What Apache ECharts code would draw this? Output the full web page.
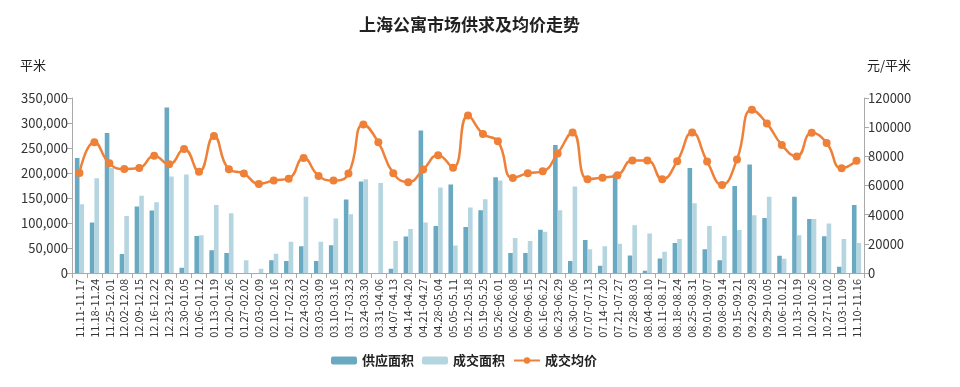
<!DOCTYPE html>
<html><head><meta charset="utf-8">
<script src="https://cdn.jsdelivr.net/npm/echarts@6/dist/echarts.min.js"></script>
<style>html,body{margin:0;padding:0;background:#fff}#c{width:960px;height:387px}</style>
</head><body><div id="c"></div>
<script>
const categories = ["11.11-11.17","11.18-11.24","11.25-12.01","12.02-12.08","12.09-12.15","12.16-12.22","12.23-12.29","12.30-01.05","01.06-01.12","01.13-01.19","01.20-01.26","01.27-02.02","02.03-02.09","02.10-02.16","02.17-02.23","02.24-03.02","03.03-03.09","03.10-03.16","03.17-03.23","03.24-03.30","03.31-04.06","04.07-04.13","04.14-04.20","04.21-04.27","04.28-05.04","05.05-05.11","05.12-05.18","05.19-05.25","05.26-06.01","06.02-06.08","06.09-06.15","06.16-06.22","06.23-06.29","06.30-07.06","07.07-07.13","07.14-07.20","07.21-07.27","07.28-08.03","08.04-08.10","08.11-08.17","08.18-08.24","08.25-08.31","09.01-09.07","09.08-09.14","09.15-09.21","09.22-09.28","09.29-10.05","10.06-10.12","10.13-10.19","10.20-10.26","10.27-11.02","11.03-11.09","11.10-11.16"];
const supplyArea = [230000,101000,280000,38000,133000,125000,331000,10500,74000,45500,40000,0,0,25500,24000,53500,24000,55500,147000,183000,0,8500,73000,285000,94000,177000,92000,125500,191500,40000,40000,86500,256000,24000,66000,14500,198000,35000,4600,29000,60000,210000,47500,25500,174000,217000,110000,34500,152500,108000,73500,12500,136000];
const dealArea = [137500,189500,210000,114000,154500,141500,193000,197000,75500,136000,119500,25500,8500,38500,62500,152500,62500,109000,117500,187500,180000,64000,88000,101000,171000,55000,131000,147500,185000,70000,64000,82500,125500,173000,47500,53500,58500,95500,79000,42500,68000,139500,94000,74000,86000,115500,152500,28500,75500,108000,99000,68000,60000];
const avgPrice = [68600,89600,75200,71300,72000,80400,74500,85100,69500,94000,71100,68200,61100,63400,64700,78800,66600,63400,68200,101900,89600,68400,62300,70900,80800,72200,108000,95300,90300,65200,68400,69700,82000,96400,64300,65400,67000,77200,77200,64300,76700,96400,76500,60400,77900,112000,102600,87800,79900,96200,89200,71800,77000];
const legendNames = ["供应面积","成交面积","成交均价"];

const chart = echarts.init(document.getElementById('c'));
const axisColor = '#aaaaaa';
const labelColor = '#333333';
const font = '"Noto Sans CJK SC", "Noto Sans", sans-serif';
chart.setOption({
  animation: false,
  textStyle: {fontFamily: font},
  title: {
    text: '上海公寓市场供求及均价走势',
    left: 354, top: 11,
    textStyle: {fontSize: 17, fontWeight: 'bold', color: '#222', fontFamily: font}
  },
  legend: {
    data: legendNames,
    bottom: 15, left: 326,
    itemWidth: 26, itemHeight: 8, itemGap: 8,
    textStyle: {fontSize: 13, fontWeight: 'bold', color: '#222'}
  },
  grid: {left: 72, right: 96, top: 98, bottom: 114, containLabel: false},
  xAxis: {
    type: 'category', data: categories, boundaryGap: true,
    axisLine: {lineStyle: {color: axisColor}},
    axisTick: {show: true, length: 5, lineStyle: {color: axisColor}},
    axisLabel: {rotate: 90, interval: 0, fontSize: 11, color: labelColor, margin: 6}
  },
  yAxis: [
    {
      type: 'value', min: 0, max: 350000, interval: 50000, position: 'left',
      name: '平米', nameLocation: 'end', nameGap: 26,
      nameTextStyle: {fontSize: 13, color: '#222', align: 'center', padding: [0, 0, 0, -78]},
      axisLine: {show: true, lineStyle: {color: axisColor}},
      axisTick: {show: true, length: 5, lineStyle: {color: axisColor}},
      splitLine: {show: false},
      axisLabel: {fontSize: 13, color: labelColor, margin: 4,
        formatter: v => v.toLocaleString('en-US')}
    },
    {
      type: 'value', min: 0, max: 120000, interval: 20000, position: 'right',
      name: '元/平米', nameLocation: 'end', nameGap: 26,
      nameTextStyle: {fontSize: 13, color: '#222', align: 'center', padding: [0, 0, 0, 50]},
      axisLine: {show: true, lineStyle: {color: axisColor}},
      axisTick: {show: true, length: 5, lineStyle: {color: axisColor}},
      splitLine: {show: false},
      axisLabel: {fontSize: 13, color: labelColor, margin: 4, formatter: v => String(v)}
    }
  ],
  series: [
    {name: legendNames[0], type: 'bar', data: supplyArea, yAxisIndex: 0,
      barWidth: 4.6, barGap: '0%', itemStyle: {color: '#6aa9c2'}},
    {name: legendNames[1], type: 'bar', data: dealArea, yAxisIndex: 0,
      barWidth: 4.6, barGap: '0%', itemStyle: {color: '#b5d6e1'}},
    {name: legendNames[2], type: 'line', data: avgPrice, yAxisIndex: 1,
      smooth: 0.5, symbol: 'circle', symbolSize: 8,
      lineStyle: {width: 2.5, color: '#ef8037'}, itemStyle: {color: '#ef8037'}}
  ]
});
</script></body></html>
